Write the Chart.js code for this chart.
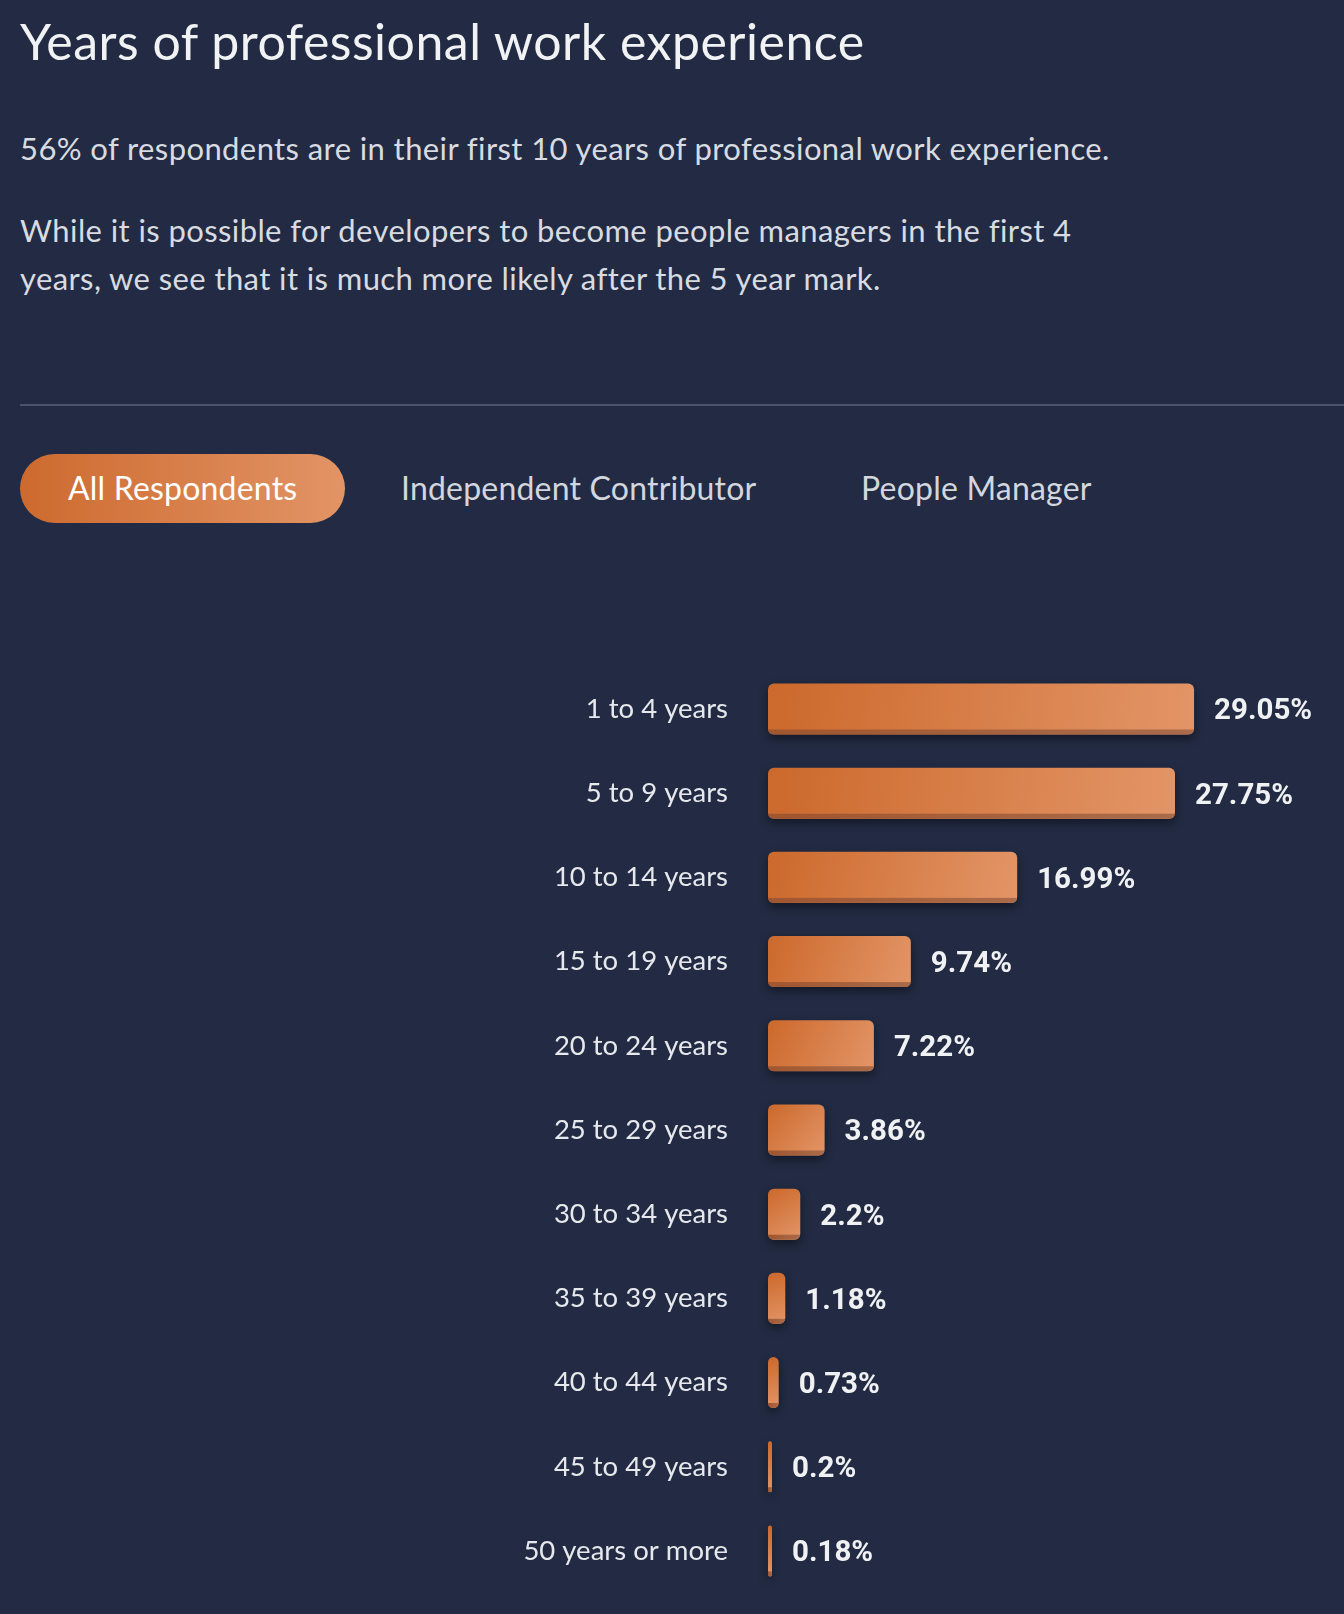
<!DOCTYPE html>
<html><head><meta charset="utf-8">
<script src="https://cdn.jsdelivr.net/npm/chart.js@4.4.1/dist/chart.umd.min.js"></script>
<style>
html,body{margin:0;padding:0;background:#222b43;}
body{width:1344px;height:1614px;position:relative;overflow:hidden;font-family:Lato,"Noto Sans",sans-serif;}
.t{position:absolute;white-space:nowrap;line-height:1;}
#title{left:20px;top:15.5px;font-size:50px;letter-spacing:0.5px;color:#f1f2f4;}
.p{left:20px;font-size:31px;letter-spacing:0.4px;color:#d8dbe1;}
#divider{position:absolute;left:20px;right:0;top:404px;height:1.5px;background:#4a5368;}
#pill{position:absolute;left:20px;top:454px;width:325px;height:69px;border-radius:35px;background:linear-gradient(90deg,#cd6a2e,#e29466);}
.tab{font-size:32px;letter-spacing:0.2px;color:#d3d6dd;top:471.6px;}
#chartwrap{position:absolute;left:0;top:620px;width:1344px;height:994px;}
#chartwrap canvas{display:block;}
</style></head>
<body>
<div class="t" id="title">Years of professional work experience</div>
<div class="t p" style="top:132.5px">56% of respondents are in their first 10 years of professional work experience.</div>
<div class="t p" style="top:214.5px">While it is possible for developers to become people managers in the first 4</div>
<div class="t p" style="top:262.5px">years, we see that it is much more likely after the 5 year mark.</div>
<div id="divider"></div>
<div id="pill"></div>
<div class="t tab" style="left:68px;color:#ffffff">All Respondents</div>
<div class="t tab" style="left:401px">Independent Contributor</div>
<div class="t tab" style="left:861px">People Manager</div>
<div id="chartwrap"><canvas id="c" width="1344" height="994"></canvas></div>
<script>
const categories = ["1 to 4 years","5 to 9 years","10 to 14 years","15 to 19 years","20 to 24 years","25 to 29 years","30 to 34 years","35 to 39 years","40 to 44 years","45 to 49 years","50 years or more"];
const percentages = [29.05, 27.75, 16.99, 9.74, 7.22, 3.86, 2.2, 1.18, 0.73, 0.2, 0.18];

function rr(ctx, x, y, w, h, r){
  r = Math.max(0, Math.min(r, w/2, h/2));
  ctx.beginPath();
  ctx.moveTo(x+r, y);
  ctx.lineTo(x+w-r, y); ctx.quadraticCurveTo(x+w, y, x+w, y+r);
  ctx.lineTo(x+w, y+h-r); ctx.quadraticCurveTo(x+w, y+h, x+w-r, y+h);
  ctx.lineTo(x+r, y+h); ctx.quadraticCurveTo(x, y+h, x, y+h-r);
  ctx.lineTo(x, y+r); ctx.quadraticCurveTo(x, y, x+r, y);
  ctx.closePath();
}
const RADIUS = 6;
const barFx = {
  id: 'barFx',
  beforeDatasetsDraw(chart){
    const ctx = chart.ctx;
    chart.getDatasetMeta(0).data.forEach(el => {
      const p = el.getProps(['x','y','base','height'], true);
      const x = Math.min(p.base, p.x), w = Math.abs(p.x - p.base);
      ctx.save();
      ctx.shadowColor = 'rgba(0,0,0,0.45)';
      ctx.shadowBlur = 10;
      ctx.shadowOffsetY = 4;
      ctx.fillStyle = '#222b43';
      rr(ctx, x, p.y - p.height/2, w, p.height, RADIUS);
      ctx.fill();
      ctx.restore();
    });
  },
  afterDatasetsDraw(chart){
    const ctx = chart.ctx;
    const meta = chart.getDatasetMeta(0);
    meta.data.forEach((el, i) => {
      const p = el.getProps(['x','y','base','height'], true);
      const x = Math.min(p.base, p.x), w = Math.abs(p.x - p.base);
      const top = p.y - p.height/2, bottom = p.y + p.height/2;
      ctx.save();
      rr(ctx, x, top, w, p.height, RADIUS);
      ctx.clip();
      const g = ctx.createLinearGradient(x, 0, x + w, 0);
      g.addColorStop(0, '#a0562f');
      g.addColorStop(1, '#aa6b4a');
      ctx.fillStyle = g;
      ctx.fillRect(x, bottom - 5, w, 5);
      ctx.restore();
      ctx.save();
      ctx.fillStyle = '#f0f1f3';
      ctx.font = 'bold 29.5px Roboto, Lato, sans-serif';
      ctx.textAlign = 'left';
      ctx.textBaseline = 'middle';
      ctx.fillText(String(percentages[i]) + '%', p.x + 20, p.y + 3);
      ctx.restore();
    });
  }
};

new Chart(document.getElementById('c'), {
  type: 'bar',
  data: {
    labels: categories,
    datasets: [{
      data: percentages,
      backgroundColor: (c) => {
        const chart = c.chart;
        const xs = chart.scales.x, ys = chart.scales.y;
        if (!chart.chartArea || !xs || !ys || c.raw === undefined) return '#d67a44';
        const x0 = xs.getPixelForValue(0);
        const x1 = Math.max(xs.getPixelForValue(c.raw), x0 + 4);
        const yc = ys.getPixelForValue(c.dataIndex);
        const g = chart.ctx.createLinearGradient(x0, yc - 25, x1, yc + 25);
        g.addColorStop(0, '#cc692c');
        g.addColorStop(1, '#e39567');
        return g;
      },
      borderRadius: RADIUS,
      borderSkipped: false,
      barPercentage: 0.606,
      categoryPercentage: 1,
      minBarLength: 4
    }]
  },
  options: {
    indexAxis: 'y',
    responsive: false,
    maintainAspectRatio: false,
    animation: false,
    events: [],
    layout: { padding: { top: 46.9, bottom: 21, right: 136, left: 0 } },
    plugins: { legend: { display: false }, tooltip: { enabled: false } },
    scales: {
      x: { display: false, min: 0, max: 30 },
      y: {
        grid: { display: false, drawTicks: false },
        border: { display: false },
        ticks: { color: '#e6e8ec', padding: 40, font: { family: 'Lato', size: 27.5 } },
        afterFit: (s) => { s.width = 768; s.paddingTop = 0; s.paddingBottom = 0; }
      }
    }
  },
  plugins: [barFx]
});
</script>
</body></html>
